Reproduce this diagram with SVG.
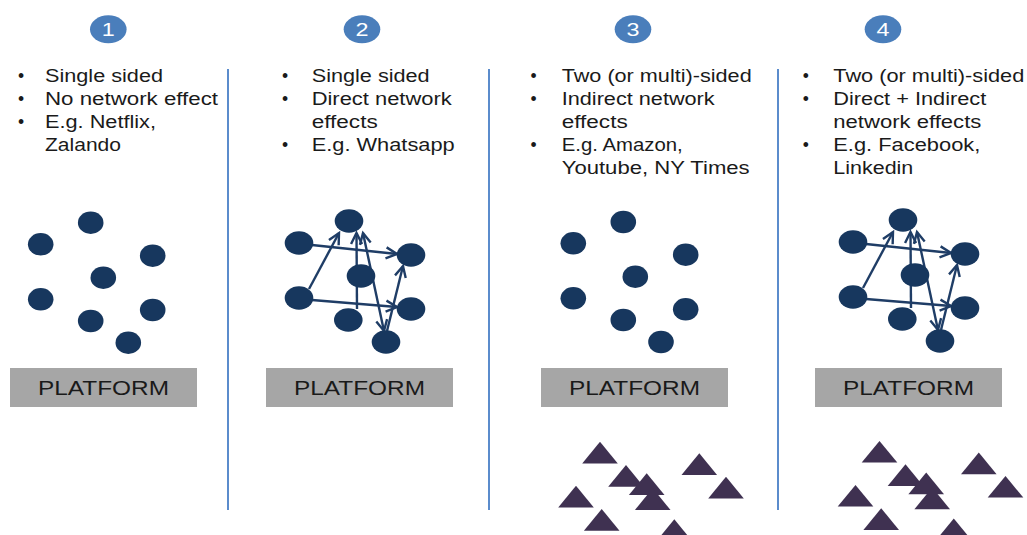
<svg xmlns="http://www.w3.org/2000/svg" width="1027" height="535" viewBox="0 0 1027 535">
<style>
.bg{fill:#ffffff}
.num{fill:#4a7ebb}
.numt{font-family:"Liberation Sans",Arial,sans-serif;font-size:19px;fill:#ffffff;text-anchor:middle}
.txt{font-family:"Liberation Sans",Arial,sans-serif;font-size:17.5px;fill:#1a1a1a}
.bul{font-family:"Liberation Sans",Arial,sans-serif;font-size:17.5px;fill:#1a1a1a;text-anchor:middle}
.div{stroke:#5b8ccc;stroke-width:2;fill:none}
.dot{fill:#17375e}
.plat{fill:#a6a6a6}
.platt{font-family:"Liberation Sans",Arial,sans-serif;font-size:20px;fill:#1a1a1a;text-anchor:middle}
.tri{fill:#3f3151}
.con{stroke:#1f3d66;stroke-width:2.4;fill:none;marker-end:url(#ah)}
.con2{stroke:#1f3d66;stroke-width:2.4;fill:none;marker-end:url(#ah);marker-start:url(#ahs)}
</style>
<defs>
<marker id="ah" markerUnits="userSpaceOnUse" markerWidth="26" markerHeight="26" viewBox="-13 -13 26 26" refX="0" refY="0" orient="auto">
<path d="M-11,-5.5 L0,0 L-11,5.5" fill="none" stroke="#1f3d66" stroke-width="2.4"/>
</marker>
<marker id="ahs" markerUnits="userSpaceOnUse" markerWidth="26" markerHeight="26" viewBox="-13 -13 26 26" refX="0" refY="0" orient="auto-start-reverse">
<path d="M-11,-5.5 L0,0 L-11,5.5" fill="none" stroke="#1f3d66" stroke-width="2.4"/>
</marker>
<path id="tri" d="M0,0 L17.8,21.7 L-17.8,21.7 Z"/>
</defs>
<rect class="bg" x="0" y="0" width="1027" height="535"/>

<g id="dividers">
<line class="div" x1="228" y1="69" x2="228" y2="510"/>
<line class="div" x1="489" y1="69" x2="489" y2="510"/>
<line class="div" x1="778" y1="69" x2="778" y2="510"/>
</g>

<g id="badges">
<ellipse class="num" cx="108.3" cy="29.3" rx="18.3" ry="14"/>
<text class="numt" x="108.3" y="36" textLength="13" lengthAdjust="spacingAndGlyphs">1</text>
<ellipse class="num" cx="362" cy="29.3" rx="18.3" ry="14"/>
<text class="numt" x="362" y="36" textLength="13" lengthAdjust="spacingAndGlyphs">2</text>
<ellipse class="num" cx="633" cy="29.3" rx="18.3" ry="14"/>
<text class="numt" x="633" y="36" textLength="13" lengthAdjust="spacingAndGlyphs">3</text>
<ellipse class="num" cx="883" cy="29.3" rx="18.3" ry="14"/>
<text class="numt" x="883" y="36" textLength="13" lengthAdjust="spacingAndGlyphs">4</text>
</g>

<g id="text1">
<text class="bul" x="21" y="81.5">•</text>
<text class="bul" x="21" y="104.5">•</text>
<text class="bul" x="21" y="127.5">•</text>
<text class="txt" x="45" y="81.5" textLength="118" lengthAdjust="spacingAndGlyphs">Single sided</text>
<text class="txt" x="45" y="104.5" textLength="173" lengthAdjust="spacingAndGlyphs">No network effect</text>
<text class="txt" x="45" y="127.5" textLength="111" lengthAdjust="spacingAndGlyphs">E.g. Netflix,</text>
<text class="txt" x="45" y="150.5" textLength="76" lengthAdjust="spacingAndGlyphs">Zalando</text>
</g>
<g id="text2">
<text class="bul" x="285" y="81.5">•</text>
<text class="bul" x="285" y="104.5">•</text>
<text class="bul" x="285" y="150.5">•</text>
<text class="txt" x="311.7" y="81.5" textLength="118" lengthAdjust="spacingAndGlyphs">Single sided</text>
<text class="txt" x="311.7" y="104.5" textLength="140" lengthAdjust="spacingAndGlyphs">Direct network</text>
<text class="txt" x="311.7" y="127.5" textLength="66" lengthAdjust="spacingAndGlyphs">effects</text>
<text class="txt" x="311.7" y="150.5" textLength="143" lengthAdjust="spacingAndGlyphs">E.g. Whatsapp</text>
</g>
<g id="text3">
<text class="bul" x="533.5" y="81.5">•</text>
<text class="bul" x="533.5" y="104.5">•</text>
<text class="bul" x="533.5" y="150.5">•</text>
<text class="txt" x="561.7" y="81.5" textLength="190" lengthAdjust="spacingAndGlyphs">Two (or multi)-sided</text>
<text class="txt" x="561.7" y="104.5" textLength="153" lengthAdjust="spacingAndGlyphs">Indirect network</text>
<text class="txt" x="561.7" y="127.5" textLength="66" lengthAdjust="spacingAndGlyphs">effects</text>
<text class="txt" x="561.7" y="150.5" textLength="121" lengthAdjust="spacingAndGlyphs">E.g. Amazon,</text>
<text class="txt" x="561.7" y="173.5" textLength="188" lengthAdjust="spacingAndGlyphs">Youtube, NY Times</text>
</g>
<g id="text4">
<text class="bul" x="805.7" y="81.5">•</text>
<text class="bul" x="805.7" y="104.5">•</text>
<text class="bul" x="805.7" y="150.5">•</text>
<text class="txt" x="833.3" y="81.5" textLength="191" lengthAdjust="spacingAndGlyphs">Two (or multi)-sided</text>
<text class="txt" x="833.3" y="104.5" textLength="153" lengthAdjust="spacingAndGlyphs">Direct + Indirect</text>
<text class="txt" x="833.3" y="127.5" textLength="148" lengthAdjust="spacingAndGlyphs">network effects</text>
<text class="txt" x="833.3" y="150.5" textLength="147" lengthAdjust="spacingAndGlyphs">E.g. Facebook,</text>
<text class="txt" x="833.3" y="173.5" textLength="80" lengthAdjust="spacingAndGlyphs">Linkedin</text>
</g>

<g id="connectors">
<g id="conn2">
<line class="con" x1="312" y1="245" x2="397" y2="254"/>
<line class="con" x1="309" y1="289" x2="339" y2="233"/>
<line class="con" x1="312" y1="300" x2="397" y2="307"/>
<line class="con" x1="357" y1="309" x2="356.5" y2="233"/>
<line class="con2" x1="363" y1="233" x2="384" y2="331"/>
<line class="con" x1="387" y1="331" x2="403" y2="266"/>
</g>
<g id="conn4" transform="translate(554,-1)">
<line class="con" x1="312" y1="245" x2="397" y2="254"/>
<line class="con" x1="309" y1="289" x2="339" y2="233"/>
<line class="con" x1="312" y1="300" x2="397" y2="307"/>
<line class="con" x1="357" y1="309" x2="356.5" y2="233"/>
<line class="con2" x1="363" y1="233" x2="384" y2="331"/>
<line class="con" x1="387" y1="331" x2="403" y2="266"/>
</g>
</g>

<g id="nodes1">
<ellipse class="dot" cx="40.7" cy="244.3" rx="12.8" ry="11.2"/>
<ellipse class="dot" cx="90.7" cy="222.7" rx="12.8" ry="11.2"/>
<ellipse class="dot" cx="152.7" cy="255.7" rx="12.8" ry="11.2"/>
<ellipse class="dot" cx="103.3" cy="277.7" rx="12.8" ry="11.2"/>
<ellipse class="dot" cx="40.7" cy="299.3" rx="12.8" ry="11.2"/>
<ellipse class="dot" cx="90.7" cy="321" rx="12.8" ry="11.2"/>
<ellipse class="dot" cx="152.7" cy="310" rx="12.8" ry="11.2"/>
<ellipse class="dot" cx="128.3" cy="342.7" rx="12.8" ry="11.2"/>
</g>
<g id="nodes2">
<ellipse class="dot" cx="349" cy="221" rx="14.3" ry="11.7"/>
<ellipse class="dot" cx="299" cy="243" rx="14.3" ry="11.7"/>
<ellipse class="dot" cx="411" cy="255" rx="14.3" ry="11.7"/>
<ellipse class="dot" cx="361" cy="276" rx="14.3" ry="11.7"/>
<ellipse class="dot" cx="299" cy="298" rx="14.3" ry="11.7"/>
<ellipse class="dot" cx="348.3" cy="320" rx="14.3" ry="11.7"/>
<ellipse class="dot" cx="411" cy="309" rx="14.3" ry="11.7"/>
<ellipse class="dot" cx="386" cy="342" rx="14.3" ry="11.7"/>
</g>
<g id="nodes3">
<ellipse class="dot" cx="573.3" cy="243.3" rx="12.8" ry="11.2"/>
<ellipse class="dot" cx="623.3" cy="222" rx="12.8" ry="11.2"/>
<ellipse class="dot" cx="685.7" cy="254.7" rx="12.8" ry="11.2"/>
<ellipse class="dot" cx="635.3" cy="276.7" rx="12.8" ry="11.2"/>
<ellipse class="dot" cx="573.3" cy="298.3" rx="12.8" ry="11.2"/>
<ellipse class="dot" cx="623.3" cy="320" rx="12.8" ry="11.2"/>
<ellipse class="dot" cx="685.7" cy="309.3" rx="12.8" ry="11.2"/>
<ellipse class="dot" cx="661" cy="342" rx="12.8" ry="11.2"/>
</g>
<g id="nodes4" transform="translate(554,-1)">
<ellipse class="dot" cx="349" cy="221" rx="14.3" ry="11.7"/>
<ellipse class="dot" cx="299" cy="243" rx="14.3" ry="11.7"/>
<ellipse class="dot" cx="411" cy="255" rx="14.3" ry="11.7"/>
<ellipse class="dot" cx="361" cy="276" rx="14.3" ry="11.7"/>
<ellipse class="dot" cx="299" cy="298" rx="14.3" ry="11.7"/>
<ellipse class="dot" cx="348.3" cy="320" rx="14.3" ry="11.7"/>
<ellipse class="dot" cx="411" cy="309" rx="14.3" ry="11.7"/>
<ellipse class="dot" cx="386" cy="342" rx="14.3" ry="11.7"/>
</g>

<g id="platform1">
<rect class="plat" x="10" y="368" width="187" height="39"/>
<text class="platt" x="103.5" y="394.5" textLength="131" lengthAdjust="spacingAndGlyphs">PLATFORM</text>
</g>
<g id="platform2">
<rect class="plat" x="266" y="368" width="187" height="39"/>
<text class="platt" x="359.5" y="394.5" textLength="131" lengthAdjust="spacingAndGlyphs">PLATFORM</text>
</g>
<g id="platform3">
<rect class="plat" x="541" y="368" width="187" height="39"/>
<text class="platt" x="634.5" y="394.5" textLength="131" lengthAdjust="spacingAndGlyphs">PLATFORM</text>
</g>
<g id="platform4">
<rect class="plat" x="815" y="368" width="187" height="39"/>
<text class="platt" x="908.5" y="394.5" textLength="131" lengthAdjust="spacingAndGlyphs">PLATFORM</text>
</g>

<g id="triangles3">
<use href="#tri" class="tri" x="600" y="441.7"/>
<use href="#tri" class="tri" x="626" y="465"/>
<use href="#tri" class="tri" x="646.7" y="473.3"/>
<use href="#tri" class="tri" x="652.7" y="488.3"/>
<use href="#tri" class="tri" x="576" y="485.7"/>
<use href="#tri" class="tri" x="601.7" y="509"/>
<use href="#tri" class="tri" x="674.3" y="519.3"/>
<use href="#tri" class="tri" x="699.3" y="453.3"/>
<use href="#tri" class="tri" x="726" y="476.7"/>
</g>
<g id="triangles4" transform="translate(279.5,-0.8)">
<use href="#tri" class="tri" x="600" y="441.7"/>
<use href="#tri" class="tri" x="626" y="465"/>
<use href="#tri" class="tri" x="646.7" y="473.3"/>
<use href="#tri" class="tri" x="652.7" y="488.3"/>
<use href="#tri" class="tri" x="576" y="485.7"/>
<use href="#tri" class="tri" x="601.7" y="509"/>
<use href="#tri" class="tri" x="674.3" y="519.3"/>
<use href="#tri" class="tri" x="699.3" y="453.3"/>
<use href="#tri" class="tri" x="726" y="476.7"/>
</g>
</svg>
